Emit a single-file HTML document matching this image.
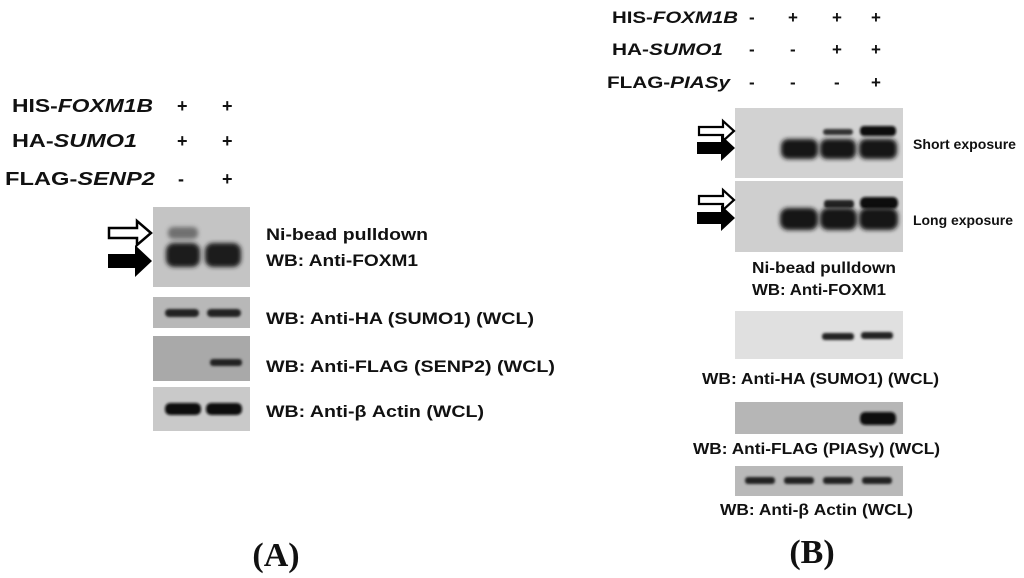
<!DOCTYPE html>
<html><head><meta charset="utf-8"><style>
html,body{margin:0;padding:0;background:#fff;}
svg{display:block;}
text{font-family:"Liberation Sans",Arial,sans-serif;font-weight:bold;fill:#111;}
</style></head><body>
<svg width="1024" height="578" viewBox="0 0 1024 578" xmlns="http://www.w3.org/2000/svg">
<defs>
<filter id="b" x="-50%" y="-100%" width="200%" height="300%"><feGaussianBlur stdDeviation="2"/></filter>
<filter id="b2" x="-50%" y="-100%" width="200%" height="300%"><feGaussianBlur stdDeviation="1.2"/></filter>
</defs>
<rect width="1024" height="578" fill="#fff"/>

<!-- Panel A header -->
<g font-size="18">
<text x="12" y="112" textLength="141" lengthAdjust="spacingAndGlyphs">HIS-<tspan font-style="italic">FOXM1B</tspan></text>
<text x="12" y="147" textLength="125" lengthAdjust="spacingAndGlyphs">HA-<tspan font-style="italic">SUMO1</tspan></text>
<text x="5" y="185" textLength="150" lengthAdjust="spacingAndGlyphs">FLAG-<tspan font-style="italic">SENP2</tspan></text>
<text x="177" y="112">+</text><text x="222" y="112">+</text>
<text x="178" y="185">-</text><text x="222" y="185">+</text>
<text x="177" y="147">+</text><text x="222" y="147">+</text>
</g>

<!-- Panel A blots -->
<rect x="153" y="207" width="97" height="80" fill="#c4c4c4"/>
<rect x="168" y="227" width="30" height="12" rx="5" fill="#555" opacity="0.75" filter="url(#b)"/>
<rect x="166" y="243" width="34" height="24" rx="8" fill="#1a1a1a" filter="url(#b)"/>
<rect x="205" y="243" width="36" height="24" rx="8" fill="#1a1a1a" filter="url(#b)"/>
<rect x="153" y="297" width="97" height="31" fill="#b8b8b8"/>
<rect x="165" y="309" width="34" height="8" rx="4" fill="#222" filter="url(#b2)"/>
<rect x="207" y="309" width="34" height="8" rx="4" fill="#222" filter="url(#b2)"/>
<rect x="153" y="336" width="97" height="45" fill="#a9a9a9"/>
<rect x="210" y="359" width="32" height="7" rx="3" fill="#222" filter="url(#b2)"/>
<rect x="153" y="387" width="97" height="44" fill="#c9c9c9"/>
<rect x="165" y="403" width="36" height="12" rx="5" fill="#111" filter="url(#b2)"/>
<rect x="206" y="403" width="36" height="12" rx="5" fill="#111" filter="url(#b2)"/>

<!-- Panel A arrows -->
<path d="M109 228 H137 V221 L151 233 L137 245 V238 H109 Z" fill="#fff" stroke="#000" stroke-width="2.5"/>
<path d="M108 254 H135 V245 L152 261 L135 277 V268 H108 Z" fill="#000"/>

<!-- Panel A labels -->
<g font-size="17">
<text x="266" y="240" textLength="162" lengthAdjust="spacingAndGlyphs">Ni-bead pulldown</text>
<text x="266" y="266" textLength="152" lengthAdjust="spacingAndGlyphs">WB: Anti-FOXM1</text>
<text x="266" y="324" textLength="268" lengthAdjust="spacingAndGlyphs">WB: Anti-HA (SUMO1) (WCL)</text>
<text x="266" y="372" textLength="289" lengthAdjust="spacingAndGlyphs">WB: Anti-FLAG (SENP2) (WCL)</text>
<text x="266" y="417" textLength="218" lengthAdjust="spacingAndGlyphs">WB: Anti-β Actin (WCL)</text>
</g>
<text x="276" y="566" font-size="34" text-anchor="middle" style="font-family:'Liberation Serif',serif;font-weight:bold">(A)</text>

<!-- Panel B header -->
<g font-size="17">
<text x="612" y="23" textLength="126" lengthAdjust="spacingAndGlyphs">HIS-<tspan font-style="italic">FOXM1B</tspan></text>
<text x="612" y="55" textLength="111" lengthAdjust="spacingAndGlyphs">HA-<tspan font-style="italic">SUMO1</tspan></text>
<text x="607" y="88" textLength="123" lengthAdjust="spacingAndGlyphs">FLAG-<tspan font-style="italic">PIASy</tspan></text>
<text x="749" y="23">-</text><text x="788" y="23">+</text><text x="832" y="23">+</text><text x="871" y="23">+</text>
<text x="749" y="55">-</text><text x="790" y="55">-</text><text x="832" y="55">+</text><text x="871" y="55">+</text>
<text x="749" y="88">-</text><text x="790" y="88">-</text><text x="834" y="88">-</text><text x="871" y="88">+</text>
</g>

<!-- Panel B blots -->
<rect x="735" y="108" width="168" height="70" fill="#d2d2d2"/>
<rect x="823" y="129" width="30" height="6" rx="3" fill="#333" filter="url(#b2)"/>
<rect x="860" y="126" width="36" height="10" rx="4" fill="#111" filter="url(#b2)"/>
<rect x="781" y="139" width="37" height="20" rx="7" fill="#151515" filter="url(#b)"/>
<rect x="820" y="139" width="36" height="20" rx="7" fill="#151515" filter="url(#b)"/>
<rect x="859" y="139" width="38" height="20" rx="7" fill="#151515" filter="url(#b)"/>
<rect x="735" y="181" width="168" height="71" fill="#cfcfcf"/>
<rect x="824" y="200" width="30" height="8" rx="3" fill="#222" filter="url(#b2)"/>
<rect x="860" y="197" width="38" height="12" rx="5" fill="#111" filter="url(#b2)"/>
<rect x="780" y="208" width="38" height="22" rx="8" fill="#151515" filter="url(#b)"/>
<rect x="820" y="208" width="37" height="22" rx="8" fill="#151515" filter="url(#b)"/>
<rect x="859" y="208" width="39" height="22" rx="8" fill="#151515" filter="url(#b)"/>
<rect x="735" y="311" width="168" height="48" fill="#e0e0e0"/>
<rect x="822" y="333" width="32" height="7" rx="3" fill="#222" filter="url(#b2)"/>
<rect x="861" y="332" width="32" height="7" rx="3" fill="#222" filter="url(#b2)"/>
<rect x="735" y="402" width="168" height="32" fill="#b6b6b6"/>
<rect x="860" y="412" width="36" height="13" rx="5" fill="#111" filter="url(#b2)"/>
<rect x="735" y="466" width="168" height="30" fill="#b9b9b9"/>
<rect x="745" y="477" width="30" height="7" rx="3" fill="#222" filter="url(#b2)"/>
<rect x="784" y="477" width="30" height="7" rx="3" fill="#222" filter="url(#b2)"/>
<rect x="823" y="477" width="30" height="7" rx="3" fill="#222" filter="url(#b2)"/>
<rect x="862" y="477" width="30" height="7" rx="3" fill="#222" filter="url(#b2)"/>

<!-- Panel B arrows -->
<path d="M699 127 H723 V121 L734 131 L723 141 V135 H699 Z" fill="#fff" stroke="#000" stroke-width="2.2"/>
<path d="M697 142 H721 V135 L735 148 L721 161 V154 H697 Z" fill="#000"/>
<path d="M699 196 H723 V190 L734 200 L723 210 V204 H699 Z" fill="#fff" stroke="#000" stroke-width="2.2"/>
<path d="M697 212 H721 V205 L735 218 L721 231 V224 H697 Z" fill="#000"/>

<!-- Panel B labels -->
<text x="913" y="149" font-size="14" textLength="103" lengthAdjust="spacingAndGlyphs">Short exposure</text>
<text x="913" y="225" font-size="14" textLength="100" lengthAdjust="spacingAndGlyphs">Long exposure</text>
<g font-size="16">
<text x="752" y="273" textLength="144" lengthAdjust="spacingAndGlyphs">Ni-bead pulldown</text>
<text x="752" y="295" textLength="134" lengthAdjust="spacingAndGlyphs">WB: Anti-FOXM1</text>
<text x="702" y="384" textLength="237" lengthAdjust="spacingAndGlyphs">WB: Anti-HA (SUMO1) (WCL)</text>
<text x="693" y="454" textLength="247" lengthAdjust="spacingAndGlyphs">WB: Anti-FLAG (PIASy) (WCL)</text>
<text x="720" y="515" textLength="193" lengthAdjust="spacingAndGlyphs">WB: Anti-β Actin (WCL)</text>
</g>
<text x="812" y="563" font-size="34" text-anchor="middle" style="font-family:'Liberation Serif',serif;font-weight:bold">(B)</text>
</svg>
</body></html>
